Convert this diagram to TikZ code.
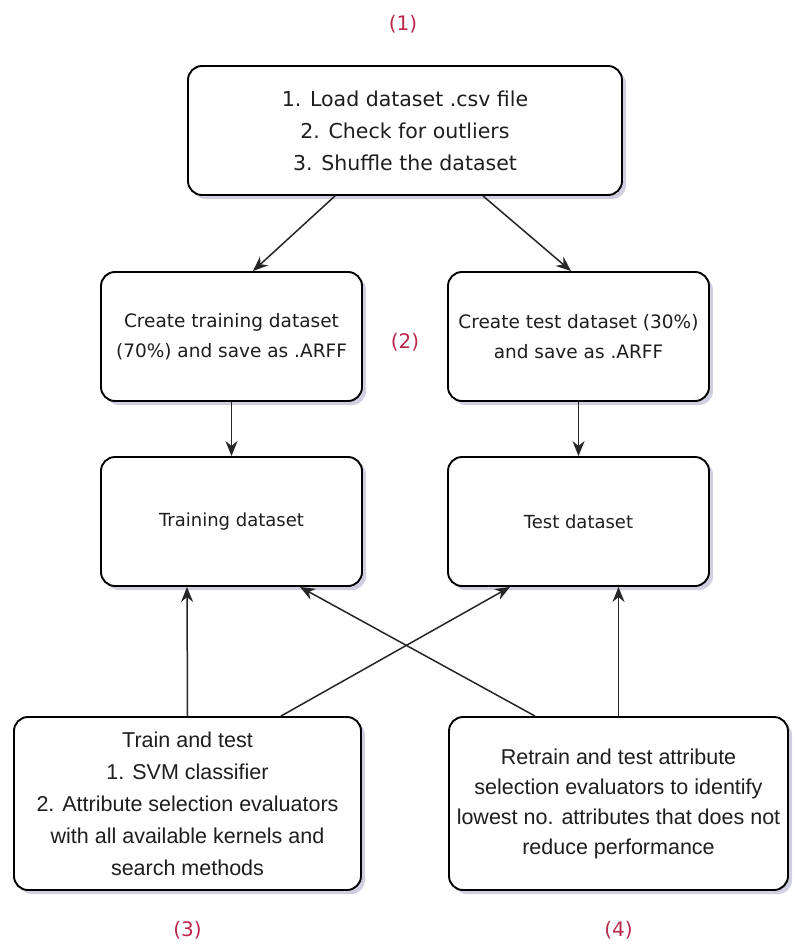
\documentclass[tikz,border=0pt]{standalone}
\usepackage{fontspec}
\setmainfont{DejaVu Sans}
\newfontfamily\narrowfont{Liberation Sans}
\usetikzlibrary{arrows.meta,shadows}
\definecolor{lblred}{RGB}{185,40,75}
\definecolor{txt}{RGB}{30,30,30}
\definecolor{shade}{RGB}{120,120,170}
\tikzset{
  box/.style={draw=black, line width=1.9pt, rounded corners=14pt, fill=white,
    align=center, text=txt, inner sep=0pt,
    drop shadow={shadow xshift=4pt, shadow yshift=-4pt, fill=shade, opacity=0.35}},
  arr/.style={draw=black!85, line width=1.5pt, -{Stealth[length=15pt,width=12pt]}},
  lbl/.style={text=lblred, font=\fontsize{20}{22}\selectfont}
}
\begin{document}
\begin{tikzpicture}[x=1pt,y=-1pt]
\useasboundingbox (0,0) rectangle (792,952);
\fill[white] (0,0) rectangle (792,952);

\node[box, minimum width=434pt, minimum height=129pt, font=\fontsize{20.5}{32}\selectfont] (top) at (405,130.5)
  {1. Load dataset .csv file\\2. Check for outliers\\3. Shuffle the dataset};

\node[box, minimum width=261pt, minimum height=129pt, font=\fontsize{18.5}{30}\selectfont] (trc) at (231.5,336.5)
  {Create training dataset\\(70\%) and save as .ARFF};
\node[box, minimum width=261pt, minimum height=129pt, font=\fontsize{18.5}{30}\selectfont] (tec) at (578.5,336.5)
  {Create test dataset (30\%)\\and save as .ARFF};

\node[box, minimum width=261pt, minimum height=129pt, font=\fontsize{18}{22}\selectfont] (trd) at (231.5,521.5)
  {Training dataset};
\node[box, minimum width=261pt, minimum height=129pt, font=\fontsize{18}{22}\selectfont] (ted) at (578.5,521.5)
  {Test dataset};

\node[box, minimum width=347pt, minimum height=173pt, font=\narrowfont\fontsize{21.5}{32}\selectfont] (bl) at (187.5,803.5)
  {\raisebox{0pt}[0pt][0pt]{}Train and test\\1. SVM classifier\\2. Attribute selection evaluators\\with all available kernels and\\search methods};
\node[box, minimum width=339pt, minimum height=173pt, font=\narrowfont\fontsize{21.5}{30}\selectfont] (br) at (618.5,803.5)
  {Retrain and test attribute\\selection evaluators to identify\\lowest no. attributes that does not\\reduce performance};

\node[lbl] (l1) at (403,24) {(1)};
\node[lbl] (l2) at (405,342) {(2)};
\node[lbl] (l3) at (187.5,930) {(3)};
\node[lbl] (l4) at (618.5,930) {(4)};

\draw[arr] ([xshift=-70pt]top.south) -- ([xshift=21.5pt]trc.north);
\draw[arr] ([xshift=78pt]top.south) -- ([xshift=-7.5pt]tec.north);
\draw[arr] (trc.south) -- (trd.north);
\draw[arr] (tec.south) -- (ted.north);
\draw[arr] (bl.north) -- ([xshift=-44.5pt]trd.south);
\draw[arr] ([xshift=93.5pt]bl.north) -- ([xshift=-68.5pt]ted.south);
\draw[arr] ([xshift=-83.5pt]br.north) -- ([xshift=68.5pt]trd.south);
\draw[arr] (br.north) -- ([xshift=40pt]ted.south);
\end{tikzpicture}
\end{document}
